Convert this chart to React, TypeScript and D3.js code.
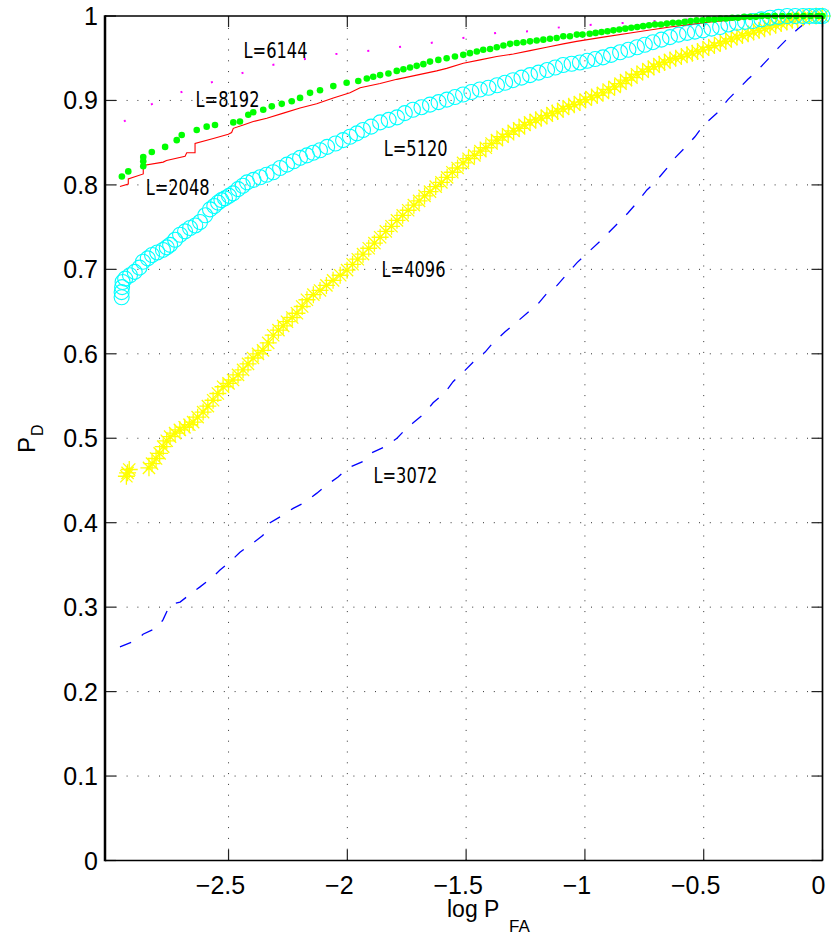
import React from "react";
import * as d3 from "d3";

// ---------- data (log P_FA, P_D) ----------
const xTicks = [-2.5, -2, -1.5, -1, -0.5, 0];
const xTickLabels = ["\u22122.5", "\u22122", "\u22121.5", "\u22121", "\u22120.5", "0"];
const yTicks = [0, 0.1, 0.2, 0.3, 0.4, 0.5, 0.6, 0.7, 0.8, 0.9, 1];
const yTickLabels = ["0", "0.1", "0.2", "0.3", "0.4", "0.5", "0.6", "0.7", "0.8", "0.9", "1"];

// L=6144 (magenta dotted)
const seriesL6144: [number, number][] = [
  [-2.94, 0.875], [-2.872, 0.889], [-2.776, 0.902], [-2.649, 0.915], [-2.494, 0.928],
  [-2.355, 0.94], [-2.199, 0.948], [-2.085, 0.954], [-1.934, 0.958], [-1.791, 0.963],
  [-1.652, 0.968], [-1.513, 0.974], [-1.37, 0.98], [-1.232, 0.982], [-1.093, 0.987],
  [-0.95, 0.99], [-0.7, 0.994], [-0.5, 0.997], [-0.25, 0.999], [0, 1.0],
];

// L=8192 (green dots)
const seriesL8192: [number, number][] = [
  [-2.949, 0.81], [-2.922, 0.816], [-2.859, 0.822], [-2.859, 0.828], [-2.859, 0.833],
  [-2.823, 0.839], [-2.767, 0.845], [-2.718, 0.853], [-2.697, 0.859], [-2.634, 0.865],
  [-2.592, 0.869], [-2.557, 0.871], [-2.48, 0.874], [-2.452, 0.875], [-2.417, 0.883],
  [-2.396, 0.886], [-2.354, 0.889], [-2.318, 0.893], [-2.276, 0.896], [-2.234, 0.899],
  [-2.199, 0.903], [-2.157, 0.909], [-2.115, 0.912], [-2.059, 0.917], [-2.003, 0.921],
  [-1.954, 0.923], [-1.918, 0.926], [-1.891, 0.928], [-1.862, 0.93], [-1.827, 0.932],
  [-1.792, 0.935], [-1.764, 0.937], [-1.736, 0.939], [-1.708, 0.941], [-1.68, 0.943],
  [-1.652, 0.946], [-1.617, 0.948], [-1.582, 0.95], [-1.547, 0.952], [-1.512, 0.954],
  [-1.484, 0.956], [-1.455, 0.958], [-1.428, 0.96], [-1.399, 0.961], [-1.371, 0.963],
  [-1.343, 0.965], [-1.315, 0.967], [-1.287, 0.968], [-1.259, 0.969], [-1.231, 0.97],
  [-1.203, 0.971], [-1.175, 0.972], [-1.147, 0.973], [-1.119, 0.974], [-1.091, 0.976],
  [-1.063, 0.976], [-1.034, 0.978], [-1.01, 0.978], [-0.98, 0.979], [-0.955, 0.98],
  [-0.93, 0.981], [-0.905, 0.982], [-0.88, 0.983], [-0.855, 0.984], [-0.83, 0.985],
  [-0.805, 0.986], [-0.78, 0.987], [-0.755, 0.988], [-0.73, 0.989], [-0.705, 0.99],
  [-0.68, 0.99], [-0.655, 0.991], [-0.63, 0.992], [-0.605, 0.992], [-0.58, 0.993],
  [-0.555, 0.994], [-0.53, 0.995], [-0.505, 0.995], [-0.48, 0.996], [-0.455, 0.996],
  [-0.43, 0.997], [-0.405, 0.997], [-0.38, 0.998], [-0.355, 0.998], [-0.33, 0.999],
  [-0.305, 0.999], [-0.28, 0.999], [-0.255, 1.0], [-0.23, 1.0], [-0.2, 1.0],
  [-0.17, 1.0], [-0.14, 1.0], [-0.11, 1.0], [-0.08, 1.0], [-0.05, 1.0], [-0.02, 1.0], [0, 1.0],
];

// L=2048 (red solid)
const seriesL2048: [number, number][] = [
  [-2.957, 0.798], [-2.922, 0.801], [-2.922, 0.807], [-2.859, 0.813], [-2.859, 0.823],
  [-2.775, 0.827], [-2.761, 0.829], [-2.683, 0.834], [-2.676, 0.838], [-2.641, 0.838],
  [-2.641, 0.849], [-2.564, 0.855], [-2.501, 0.86], [-2.487, 0.862], [-2.48, 0.867],
  [-2.438, 0.871], [-2.396, 0.875], [-2.339, 0.879], [-2.269, 0.885], [-2.199, 0.891],
  [-2.129, 0.896], [-2.059, 0.903], [-1.989, 0.909], [-1.946, 0.915], [-1.862, 0.92],
  [-1.792, 0.925], [-1.708, 0.93], [-1.624, 0.935], [-1.582, 0.938], [-1.512, 0.944],
  [-1.441, 0.948], [-1.371, 0.952], [-1.301, 0.955], [-1.231, 0.959], [-1.161, 0.963],
  [-1.091, 0.967], [-1.035, 0.97], [-0.923, 0.975], [-0.782, 0.981], [-0.642, 0.987],
  [-0.502, 0.992], [-0.361, 0.996], [-0.221, 0.999], [0, 1.0],
];

// L=5120 (cyan circles)
const seriesL5120: [number, number][] = [
  [-2.95, 0.667], [-2.95, 0.673], [-2.948, 0.679], [-2.946, 0.685], [-2.935, 0.689],
  [-2.915, 0.693], [-2.895, 0.697], [-2.875, 0.702], [-2.86, 0.709], [-2.84, 0.713],
  [-2.822, 0.717], [-2.8, 0.72], [-2.776, 0.723], [-2.76, 0.726], [-2.746, 0.729],
  [-2.725, 0.735], [-2.704, 0.741], [-2.683, 0.745], [-2.662, 0.749], [-2.64, 0.752],
  [-2.62, 0.756], [-2.598, 0.764], [-2.578, 0.771], [-2.56, 0.775], [-2.544, 0.779],
  [-2.53, 0.782], [-2.515, 0.784], [-2.498, 0.787], [-2.481, 0.79], [-2.46, 0.795],
  [-2.44, 0.799], [-2.422, 0.803], [-2.395, 0.806], [-2.367, 0.809], [-2.34, 0.812],
  [-2.312, 0.815], [-2.283, 0.82], [-2.254, 0.824], [-2.226, 0.828], [-2.199, 0.832],
  [-2.17, 0.835], [-2.144, 0.838], [-2.115, 0.841], [-2.085, 0.845], [-2.05, 0.849],
  [-2.018, 0.853], [-1.989, 0.857], [-1.96, 0.861], [-1.934, 0.865], [-1.9, 0.869],
  [-1.862, 0.874], [-1.826, 0.877], [-1.791, 0.88], [-1.758, 0.885], [-1.724, 0.889],
  [-1.688, 0.892], [-1.652, 0.895], [-1.616, 0.898], [-1.581, 0.901], [-1.547, 0.904],
  [-1.513, 0.907], [-1.478, 0.91], [-1.442, 0.913], [-1.406, 0.915], [-1.37, 0.918],
  [-1.336, 0.921], [-1.303, 0.924], [-1.267, 0.927], [-1.231, 0.93], [-1.195, 0.933],
  [-1.159, 0.936], [-1.125, 0.939], [-1.092, 0.942], [-1.056, 0.9435], [-1.021, 0.945],
  [-0.99, 0.947], [-0.957, 0.949], [-0.924, 0.951], [-0.89, 0.954], [-0.852, 0.957],
  [-0.817, 0.96], [-0.781, 0.963], [-0.748, 0.966], [-0.714, 0.969], [-0.678, 0.972],
  [-0.642, 0.975], [-0.606, 0.978], [-0.57, 0.98], [-0.537, 0.9815], [-0.503, 0.983],
  [-0.467, 0.985], [-0.431, 0.987], [-0.396, 0.99], [-0.36, 0.992], [-0.326, 0.993],
  [-0.293, 0.994], [-0.257, 0.996], [-0.221, 0.998], [-0.185, 0.999], [-0.149, 1.0],
  [-0.115, 1.0], [-0.082, 1.0], [-0.055, 1.0], [-0.03, 1.0], [-0.012, 1.0], [0, 1.0],
];

// L=4096 (yellow asterisks)
const seriesL4096: [number, number][] = [
  [-2.93, 0.455], [-2.925, 0.459], [-2.918, 0.463],
  [-2.835, 0.465], [-2.822, 0.47], [-2.805, 0.476], [-2.79, 0.482], [-2.775, 0.49],
  [-2.76, 0.497], [-2.746, 0.502], [-2.725, 0.506], [-2.705, 0.51], [-2.685, 0.513],
  [-2.665, 0.516], [-2.649, 0.519], [-2.63, 0.525], [-2.607, 0.531], [-2.587, 0.538],
  [-2.565, 0.545], [-2.545, 0.553], [-2.523, 0.561], [-2.5, 0.565], [-2.481, 0.569],
  [-2.46, 0.575], [-2.439, 0.581], [-2.418, 0.588], [-2.397, 0.595], [-2.376, 0.6],
  [-2.355, 0.604], [-2.333, 0.613], [-2.312, 0.622], [-2.29, 0.628], [-2.27, 0.633],
  [-2.254, 0.638], [-2.232, 0.643], [-2.212, 0.648], [-2.19, 0.656], [-2.17, 0.664],
  [-2.143, 0.67], [-2.115, 0.675], [-2.088, 0.681], [-2.06, 0.687], [-2.03, 0.693],
  [-2.001, 0.699], [-1.978, 0.706], [-1.956, 0.712], [-1.934, 0.718], [-1.91, 0.725],
  [-1.886, 0.731], [-1.862, 0.738], [-1.838, 0.745], [-1.814, 0.751], [-1.791, 0.758],
  [-1.767, 0.764], [-1.744, 0.77], [-1.72, 0.776], [-1.698, 0.781], [-1.675, 0.787],
  [-1.652, 0.792], [-1.628, 0.798], [-1.604, 0.803], [-1.58, 0.809], [-1.558, 0.815],
  [-1.536, 0.82], [-1.513, 0.826], [-1.49, 0.831], [-1.465, 0.835], [-1.44, 0.84],
  [-1.417, 0.844], [-1.393, 0.849], [-1.37, 0.853], [-1.347, 0.857], [-1.323, 0.86],
  [-1.3, 0.864], [-1.277, 0.867], [-1.254, 0.871], [-1.231, 0.874], [-1.207, 0.877],
  [-1.184, 0.879], [-1.16, 0.882], [-1.137, 0.885], [-1.115, 0.887], [-1.092, 0.89],
  [-1.068, 0.893], [-1.045, 0.895], [-1.021, 0.898], [-0.997, 0.901], [-0.972, 0.904],
  [-0.948, 0.906], [-0.924, 0.909], [-0.9, 0.913], [-0.875, 0.916], [-0.85, 0.92],
  [-0.827, 0.924], [-0.804, 0.927], [-0.781, 0.931], [-0.757, 0.934], [-0.733, 0.937],
  [-0.71, 0.94], [-0.687, 0.943], [-0.665, 0.945], [-0.642, 0.948], [-0.618, 0.95],
  [-0.594, 0.952], [-0.57, 0.954], [-0.548, 0.956], [-0.526, 0.958], [-0.503, 0.96],
  [-0.479, 0.963], [-0.455, 0.965], [-0.43, 0.968], [-0.407, 0.97], [-0.384, 0.973],
  [-0.36, 0.975], [-0.337, 0.977], [-0.313, 0.979], [-0.29, 0.981], [-0.267, 0.983],
  [-0.244, 0.985], [-0.221, 0.987], [-0.197, 0.989], [-0.174, 0.991], [-0.15, 0.993],
  [-0.127, 0.995], [-0.105, 0.996], [-0.082, 0.998], [-0.055, 0.999], [-0.027, 1.0], [0, 1.0],
];

// L=3072 (blue dashed)
const seriesL3072: [number, number][] = [
  [-2.957, 0.253], [-2.885, 0.261], [-2.86, 0.268], [-2.797, 0.276], [-2.776, 0.285],
  [-2.746, 0.303], [-2.704, 0.306], [-2.654, 0.317], [-2.62, 0.324], [-2.569, 0.335],
  [-2.536, 0.344], [-2.485, 0.356], [-2.452, 0.365], [-2.397, 0.376], [-2.355, 0.385],
  [-2.325, 0.4], [-2.283, 0.407], [-2.228, 0.417], [-2.186, 0.423], [-2.128, 0.435],
  [-2.085, 0.445], [-2.039, 0.454], [-1.997, 0.465], [-1.938, 0.472], [-1.896, 0.483],
  [-1.841, 0.49], [-1.791, 0.5], [-1.757, 0.51], [-1.724, 0.518], [-1.673, 0.53],
  [-1.639, 0.542], [-1.589, 0.554], [-1.555, 0.567], [-1.513, 0.578], [-1.471, 0.59],
  [-1.42, 0.602], [-1.387, 0.613], [-1.336, 0.626], [-1.302, 0.634], [-1.244, 0.648],
  [-1.201, 0.658], [-1.159, 0.672], [-1.117, 0.681], [-1.071, 0.696], [-1.033, 0.708],
  [-0.93, 0.735], [-0.818, 0.767], [-0.781, 0.779], [-0.739, 0.794], [-0.705, 0.803],
  [-0.654, 0.82], [-0.621, 0.832], [-0.579, 0.844], [-0.537, 0.857], [-0.503, 0.87],
  [-0.44, 0.886], [-0.398, 0.901], [-0.356, 0.913], [-0.314, 0.925], [-0.272, 0.936],
  [-0.229, 0.949], [-0.187, 0.962], [-0.145, 0.974], [-0.103, 0.985], [-0.053, 0.996], [0, 1.0],
];

const labelTexts = ["L=6144", "L=8192", "L=2048", "L=5120", "L=4096", "L=3072"];
const labelX = [-2.437, -2.639, -2.849, -1.847, -1.856, -1.89];
const labelY = [0.9598, 0.901, 0.7969, 0.8431, 0.6998, 0.4565];

// ---------- layout ----------
const W = 834;
const H = 941;
const left = 105;
const right = 822.5;
const top = 16;
const bottom = 860.5;

const x = d3.scaleLinear().domain([-3.02, 0]).range([left, right]);
const y = d3.scaleLinear().domain([0, 1]).range([bottom, top]);
const line = d3
  .line<[number, number]>()
  .x((d) => x(d[0]))
  .y((d) => y(d[1]));

const tickFont = "'Liberation Sans', Arial, Helvetica, sans-serif";
const labelFont = "'DejaVu Sans Condensed', 'DejaVu Sans', sans-serif";

function asterisk(cx: number, cy: number, s: number) {
  const d = s * 0.72;
  return `M${cx - s},${cy}L${cx + s},${cy}M${cx},${cy - s}L${cx},${cy + s}` +
    `M${cx - d},${cy - d}L${cx + d},${cy + d}M${cx - d},${cy + d}L${cx + d},${cy - d}`;
}

export default function App() {
  return (
    <svg
      width={W}
      height={H}
      style={{ position: "absolute", left: 0, top: 0, background: "#fff" }}
    >
      <rect x={0} y={0} width={W} height={H} fill="#fff" />
      {/* grid */}
      <g stroke="#333" strokeWidth={1} strokeDasharray="1 9.8">
        {xTicks.filter((t) => t !== 0).map((t) => (
          <line key={"gx" + t} x1={x(t)} x2={x(t)} y1={bottom} y2={top} />
        ))}
        {yTicks.filter((t) => t !== 0 && t !== 1).map((t) => (
          <line key={"gy" + t} x1={left} x2={right} y1={y(t)} y2={y(t)} />
        ))}
      </g>
      {/* ticks */}
      <g stroke="#222" strokeWidth={1.2}>
        {xTicks.map((t) => (
          <g key={"tx" + t}>
            <line x1={x(t)} x2={x(t)} y1={bottom} y2={bottom - 11} />
            <line x1={x(t)} x2={x(t)} y1={top} y2={top + 11} />
          </g>
        ))}
        {yTicks.map((t) => (
          <g key={"ty" + t}>
            <line x1={left} x2={left + 11} y1={y(t)} y2={y(t)} />
            <line x1={right} x2={right - 11} y1={y(t)} y2={y(t)} />
          </g>
        ))}
      </g>

      {/* L=3072 blue dashed */}
      <path d={line(seriesL3072) || ""} fill="none" stroke="#0000ff" strokeWidth={1.3} strokeDasharray="12 13" />
      {/* L=4096 yellow asterisks */}
      <g stroke="#ffff00" strokeWidth={1.3} fill="none">
        {seriesL4096.map((d, i) => (
          <path key={"ye" + i} d={asterisk(x(d[0]), y(d[1]), 8.5)} />
        ))}
      </g>
      {/* L=5120 cyan circles */}
      <g stroke="#00ffff" strokeWidth={1.1} fill="none">
        {seriesL5120.map((d, i) => (
          <circle key={"cy" + i} cx={x(d[0])} cy={y(d[1])} r={7.5} />
        ))}
      </g>
      {/* L=6144 magenta dotted */}
      <path d={line(seriesL6144) || ""} fill="none" stroke="#ff00ff" strokeWidth={2} strokeDasharray="2 30" />
      {/* L=2048 red */}
      <path d={line(seriesL2048) || ""} fill="none" stroke="#ff0000" strokeWidth={1.1} />
      {/* L=8192 green dots */}
      <g fill="#00ff00">
        {seriesL8192.map((d, i) => (
          <circle key={"gr" + i} cx={x(d[0])} cy={y(d[1])} r={3.3} />
        ))}
      </g>

      {/* axes box */}
      <g stroke="#000" fill="none">
        <line x1={left} x2={right} y1={top} y2={top} strokeWidth={1.7} />
        <line x1={left} x2={right} y1={bottom} y2={bottom} strokeWidth={1.7} />
        <line x1={right} x2={right} y1={top} y2={bottom} strokeWidth={1.7} />
        <line x1={left} x2={left} y1={top - 0.8} y2={bottom + 0.8} strokeWidth={2.5} />
      </g>

      {/* tick labels */}
      <g fontFamily={tickFont} fontSize={25} fill="#000">
        {yTicks.map((t, i) => (
          <text key={"yl" + t} x={98} y={y(t)} dy="0.36em" textAnchor="end">
            {yTickLabels[i]}
          </text>
        ))}
        {xTicks.map((t, i) => (
          <text key={"xl" + t} x={x(t) - (t < 0 ? 8 : 4)} y={894} textAnchor="middle">
            {xTickLabels[i]}
          </text>
        ))}
      </g>

      {/* axis titles */}
      <g fontFamily={tickFont} fill="#000">
        <text x={447} y={917} fontSize={23}>log P</text>
        <text x={509} y={932} fontSize={17}>FA</text>
        <text transform="translate(35,453) rotate(-90)" fontSize={24}>P</text>
        <text transform="translate(43,436) rotate(-90)" fontSize={16}>D</text>
      </g>

      {/* annotations */}
      <g fontFamily={labelFont} fontSize={21} fill="#000">
        {labelTexts.map((s, i) => (
          <text
            key={s}
            x={x(labelX[i])}
            y={y(labelY[i])}
            dy="0.36em"
            textLength={64}
            lengthAdjust="spacingAndGlyphs"
          >
            {s}
          </text>
        ))}
      </g>
    </svg>
  );
}
